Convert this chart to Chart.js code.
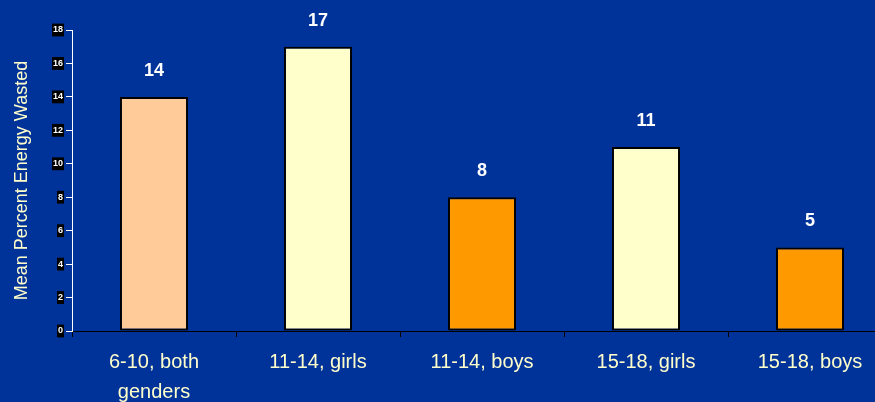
<!DOCTYPE html>
<html>
<head>
<meta charset="utf-8">
<script src="https://cdn.jsdelivr.net/npm/chart.js@4/dist/chart.umd.min.js"></script>
<style>
  html, body { margin: 0; padding: 0; overflow: hidden; background: #003399; }
  #wrap { width: 900px; height: 402px; }
</style>
</head>
<body>
<div id="wrap"><canvas id="energyChart" width="900" height="402"></canvas></div>
<script>
const categories = [["6-10, both", "genders"], "11-14, girls", "11-14, boys", "15-18, girls", "15-18, boys"];
const wasted = [14, 17, 8, 11, 5];
const barColors = ["#ffcc99", "#ffffcc", "#ff9900", "#ffffcc", "#ff9900"];
const yTicks = [0, 2, 4, 6, 8, 10, 12, 14, 16, 18];

// value labels above each bar
const valueLabels = {
    id: "valueLabels",
    afterDatasetsDraw(chart) {
        const ctx = chart.ctx;
        const meta = chart.getDatasetMeta(0);
        ctx.save();
        ctx.fillStyle = "#ffffff";
        ctx.font = "bold 18px Arial, 'Liberation Sans', sans-serif";
        ctx.textAlign = "center";
        ctx.textBaseline = "middle";
        meta.data.forEach((bar, i) => {
            ctx.fillText(String(wasted[i]), bar.x, bar.y - 26);
        });
        ctx.restore();
    }
};

const ctx = document.getElementById("energyChart").getContext("2d");
new Chart(ctx, {
    type: "bar",
    data: {
        labels: categories,
        datasets: [{
            data: wasted,
            backgroundColor: barColors,
            borderColor: "#000000",
            borderWidth: 2,
            borderSkipped: false,
            barPercentage: 0.83,
            categoryPercentage: 0.5
        }]
    },
    options: {
        responsive: false,
        animation: false,
        layout: { padding: { top: 30, left: 0, right: 8, bottom: 0 } },
        plugins: {
            legend: { display: false },
            tooltip: { enabled: false }
        },
        scales: {
            x: {
                afterFit: scale => { scale.height = 71; },
                border: { color: "#000000", width: 1 },
                grid: {
                    offset: true,
                    drawOnChartArea: false,
                    color: "#000000",
                    tickLength: 6
                },
                ticks: {
                    color: "#ffffcc",
                    padding: 10,
                    maxRotation: 0,
                    font: { family: "Arial, 'Liberation Sans', sans-serif", size: 20, lineHeight: 1.5 }
                }
            },
            y: {
                min: 0,
                max: 18,
                afterFit: scale => { scale.width = 72; },
                afterBuildTicks: scale => { scale.ticks = yTicks.map(v => ({ value: v })); },
                border: { color: "#ffffff", width: 1 },
                grid: {
                    drawOnChartArea: false,
                    color: "#ffffff",
                    tickLength: 6
                },
                ticks: {
                    color: "#ffffff",
                    padding: 3,
                    showLabelBackdrop: true,
                    backdropColor: "#000000",
                    backdropPadding: { top: 1, bottom: 1, left: 1, right: 1 },
                    font: { family: "Arial, 'Liberation Sans', sans-serif", size: 9, weight: "bold" }
                },
                title: {
                    display: true,
                    text: "Mean Percent Energy Wasted",
                    color: "#ffffcc",
                    padding: { top: 11, bottom: 4 },
                    font: { family: "Arial, 'Liberation Sans', sans-serif", size: 18 }
                }
            }
        }
    },
    plugins: [valueLabels]
});
</script>
</body>
</html>
